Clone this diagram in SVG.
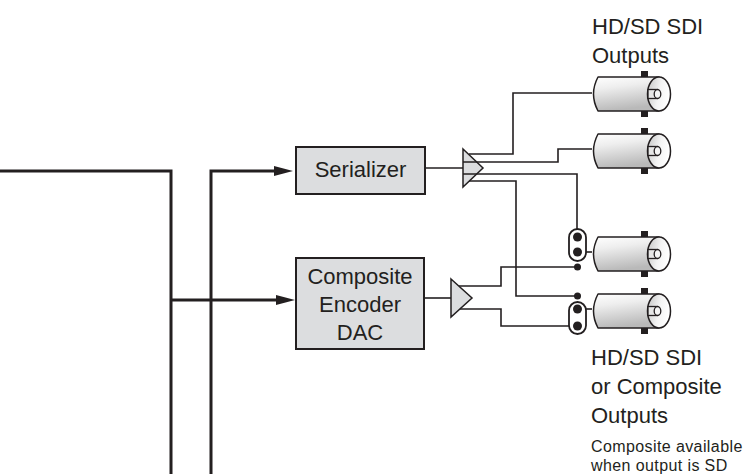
<svg xmlns="http://www.w3.org/2000/svg" xmlns:xlink="http://www.w3.org/1999/xlink" width="749" height="474" viewBox="0 0 749 474">
<style>
  .txt { font-family: "Liberation Sans", Arial, sans-serif; fill: #231f20; }
  .lbl { font-size: 22px; }
  .sm { font-size: 16px; letter-spacing: 0.4px; }
  .box { fill: #dcdddf; stroke: #231f20; stroke-width: 2; }
  .tri { fill: #dcdddf; stroke: #231f20; stroke-width: 1.5; stroke-linejoin: miter; }
  .bus { fill: none; stroke: #231f20; stroke-width: 3; }
  .wire { fill: none; stroke: #231f20; stroke-width: 1.6; }
  .cap { fill: #ffffff; stroke: #231f20; stroke-width: 1.8; }
  .dot { fill: #231f20; }
</style>
<defs>
  <marker id="ah" viewBox="0 0 19 10" refX="5" refY="5" markerWidth="19" markerHeight="10" markerUnits="userSpaceOnUse" orient="auto">
    <path d="M0,0 L19,5 L0,10 Z" fill="#231f20"/>
  </marker>
  <linearGradient id="gBody" x1="0" y1="0" x2="0.25" y2="1">
    <stop offset="0" stop-color="#ffffff"/>
    <stop offset="0.35" stop-color="#eeeeee"/>
    <stop offset="1" stop-color="#b9b9b9"/>
  </linearGradient>
  <linearGradient id="gFace" x1="0" y1="0" x2="1" y2="0.3">
    <stop offset="0" stop-color="#c4c4c4"/>
    <stop offset="0.6" stop-color="#f4f4f4"/>
    <stop offset="1" stop-color="#ffffff"/>
  </linearGradient>
  <g id="bnc">
    <rect x="49" y="-23" width="7" height="6" fill="#231f20"/>
    <rect x="49" y="17" width="7" height="6" fill="#231f20"/>
    <path d="M6,-17 H67 V17 H6 Q-3,0 6,-17 Z" fill="url(#gBody)" stroke="#231f20" stroke-width="1.5" stroke-linejoin="round"/>
    <ellipse cx="67" cy="0" rx="11.5" ry="17" fill="url(#gFace)" stroke="#231f20" stroke-width="1.5"/>
    <rect x="56" y="-4.5" width="9" height="9" fill="#e6e6e6" stroke="#231f20" stroke-width="1.3"/>
    <ellipse cx="65.5" cy="0" rx="3.3" ry="4.5" fill="#f4f4f4" stroke="#231f20" stroke-width="1.3"/>
  </g>
</defs>

<g id="connectors">
  <path class="bus" d="M0,171 H171 V474"/>
  <path class="bus" d="M171,300 H281" marker-end="url(#ah)"/>
  <path class="bus" d="M211,474 V171 H279" marker-end="url(#ah)"/>
  <path class="wire" d="M425,168 H463"/>
  <path class="wire" d="M424,298 H451"/>
</g>

<g id="serializer">
  <rect class="box" x="296" y="147" width="129" height="47"/>
  <text class="txt lbl" x="360.5" y="177" text-anchor="middle">Serializer</text>
</g>

<g id="composite-encoder">
  <rect class="box" x="296" y="258" width="128" height="91"/>
  <text class="txt lbl" x="360" y="284" text-anchor="middle">Composite</text>
  <text class="txt lbl" x="360" y="312" text-anchor="middle">Encoder</text>
  <text class="txt lbl" x="360" y="340" text-anchor="middle">DAC</text>
</g>

<g id="sdi-driver">
  <polygon class="tri" points="463,149 483,168 463,187"/>
</g>

<g id="composite-driver">
  <polygon class="tri" points="451,279 472,298 451,317"/>
</g>

<g id="output-wires">
  <path class="wire" d="M469,154 H513 V93 H592"/>
  <path class="wire" d="M463,162 H558 V149 H592"/>
  <path class="wire" d="M463,174 H577 V237"/>
  <path class="wire" d="M469,181 H516 V296 H577"/>
  <path class="wire" d="M459,286 H501 V267 H577"/>
  <path class="wire" d="M460,309 H501 V326 H577"/>
  <path class="wire" d="M577,252 H592"/>
  <path class="wire" d="M577,309 H592"/>
</g>

<g id="switch-1">
  <rect class="cap" x="569" y="229" width="17" height="32" rx="8.5"/>
  <circle class="dot" cx="577.5" cy="237" r="4.5"/>
  <circle class="dot" cx="577.5" cy="252" r="4.5"/>
  <circle class="dot" cx="577.5" cy="267" r="3.5"/>
</g>

<g id="switch-2">
  <rect class="cap" x="569" y="302" width="17" height="32" rx="8.5"/>
  <circle class="dot" cx="577.5" cy="296" r="3.5"/>
  <circle class="dot" cx="577.5" cy="309" r="4.5"/>
  <circle class="dot" cx="577.5" cy="326" r="4.5"/>
</g>

<g id="bnc-1"><use xlink:href="#bnc" href="#bnc" x="592" y="94"/></g>
<g id="bnc-2"><use xlink:href="#bnc" href="#bnc" x="592" y="151"/></g>
<g id="bnc-3"><use xlink:href="#bnc" href="#bnc" x="592" y="254"/></g>
<g id="bnc-4"><use xlink:href="#bnc" href="#bnc" x="592" y="311"/></g>

<g id="label-sdi-outputs">
  <text class="txt lbl" x="592" y="34">HD/SD SDI</text>
  <text class="txt lbl" x="592" y="63">Outputs</text>
</g>

<g id="label-sdi-composite-outputs">
  <text class="txt lbl" x="591" y="365">HD/SD SDI</text>
  <text class="txt lbl" x="591" y="394">or Composite</text>
  <text class="txt lbl" x="591" y="423">Outputs</text>
  <text class="txt sm" x="591" y="452">Composite available</text>
  <text class="txt sm" x="591" y="471">when output is SD</text>
</g>
</svg>
